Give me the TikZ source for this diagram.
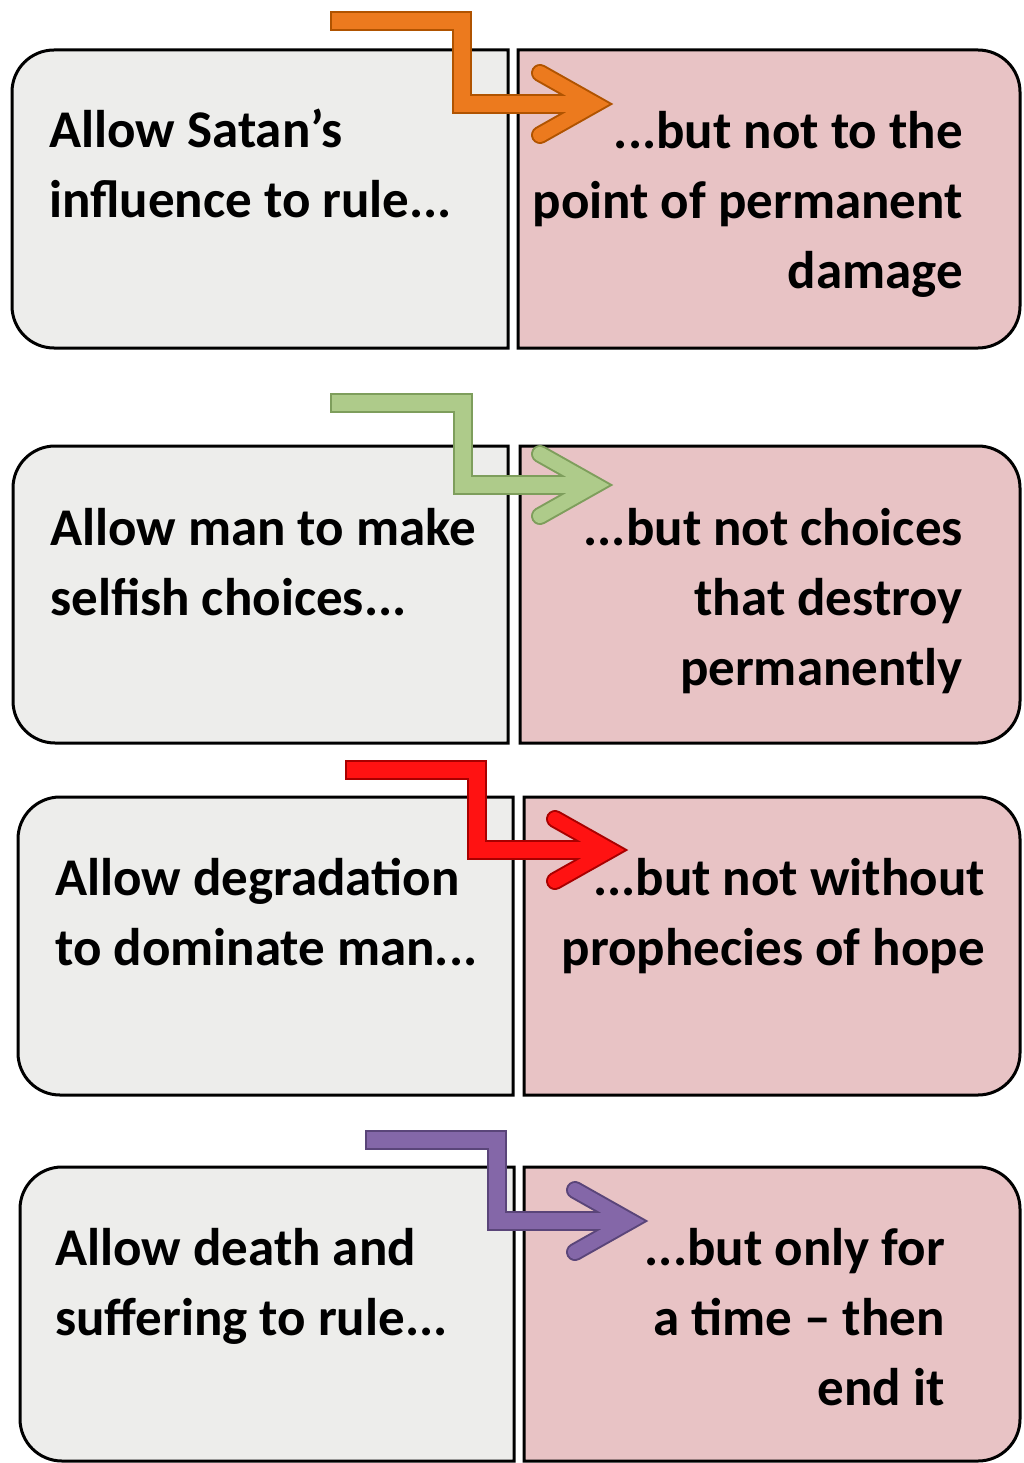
\documentclass[tikz,border=0pt]{standalone}
\usepackage{fontspec}
\setmainfont{Carlito}
\usetikzlibrary{calc}
\definecolor{cardgray}{HTML}{EDEDEB}
\definecolor{cardpink}{HTML}{E8C3C5}
\definecolor{orgmain}{HTML}{EC7A1E}
\definecolor{orgdark}{HTML}{B05300}
\definecolor{grnmain}{HTML}{AECB8A}
\definecolor{grndark}{HTML}{7E9E5C}
\definecolor{redmain}{HTML}{FF1212}
\definecolor{reddark}{HTML}{A80000}
\definecolor{purmain}{HTML}{8467A8}
\definecolor{purdark}{HTML}{5A4579}
\tikzset{
  cardline/.style={draw=black, line width=3pt},
  cardtext/.style={inner sep=0pt, font=\fontsize{53}{70}\selectfont\bfseries},
  leftnote/.style={cardtext, anchor=base west, align=left},
  rightnote/.style={cardtext, anchor=base east, align=right},
  barbase/.style={line width=20pt, line join=miter},
  bartop/.style={line width=16pt, line join=miter},
}
% left card: rounded on the left side only
\newcommand{\leftcard}[5]{%
  \draw[cardline, fill=#1] (#4,#3) -- ({#2+42},#3) arc(270:180:42)
    -- (#2,{#5-42}) arc(180:90:42) -- (#4,#5) -- cycle;}
% right card: rounded on the right side only
\newcommand{\rightcard}[5]{%
  \draw[cardline, fill=#1] (#2,#3) -- ({#4-42},#3) arc(270:360:42)
    -- (#4,{#5-42}) arc(0:90:42) -- (#2,#5) -- cycle;}
% zig arrow: #1 prefix, #2 dark, #3 main, #4 x start, #5 y top, #6 x vertical, #7 y lower, #8 x tip
\newcommand{\zigarrow}[8]{%
  \coordinate (#1s) at (#4,#5);
  \coordinate (#1k) at (#6,#7);
  \coordinate (#1t) at (#8,#7);
  \coordinate (#1u) at ({#8-55},{#7-31});
  \coordinate (#1d) at ({#8-55},{#7+31});
  \draw[barbase, draw=#2] (#1s) -| (#1k) -- (#1t);
  \draw[barbase, draw=#2, line width=18pt, line cap=round] (#1u) -- (#1t) -- (#1d);
  \begin{scope}[shift={(-2,-2)}]
  \draw[bartop, draw=#3] ($(#1s)+(2,0)$) -| (#1k) -- (#1t);
  \draw[bartop, draw=#3, line width=14pt, line cap=round] (#1u) -- (#1t) -- (#1d);
  \end{scope}}
\begin{document}
\begin{tikzpicture}[x=1pt, y=-1pt]
\useasboundingbox (0,0) rectangle (1023,1463);
% cards
\leftcard{cardgray}{12}{50}{508}{348}
\rightcard{cardpink}{518}{50}{1020}{348}
\leftcard{cardgray}{13}{446}{508}{743}
\rightcard{cardpink}{520}{446}{1020}{743}
\leftcard{cardgray}{18}{797}{513}{1095}
\rightcard{cardpink}{524}{797}{1020}{1095}
\leftcard{cardgray}{20}{1167}{514}{1461}
\rightcard{cardpink}{524}{1167}{1020}{1461}
% texts (anchored at the baseline of the last line)
\node[leftnote] (l1) at (49,218) {Allow Satan’s\\influence to rule...};
\node[rightnote] (r1) at (963,288) {...but not to the\\point of permanent\\damage};
\node[leftnote] (l2) at (50,615) {Allow man to make\\selfish choices...};
\node[rightnote] (r2) at (963,685) {...but not choices\\that destroy\\permanently};
\node[leftnote] (l3) at (55,965) {Allow degradation\\to dominate man...};
\node[rightnote] (r3) at (985,965) {...but not without\\prophecies of hope};
\node[leftnote] (l4) at (55,1335) {Allow death and\\suffering to rule...};
\node[rightnote] (r4) at (945,1405) {...but only for\\a time – then\\end it};
% arrows
\zigarrow{a1}{orgdark}{orgmain}{330}{21}{462}{104}{595}
\zigarrow{a2}{grndark}{grnmain}{330}{403}{463}{485}{595}
\zigarrow{a3}{reddark}{redmain}{345}{770}{477}{850}{610}
\zigarrow{a4}{purdark}{purmain}{365}{1140}{497}{1221}{630}
\end{tikzpicture}
\end{document}
